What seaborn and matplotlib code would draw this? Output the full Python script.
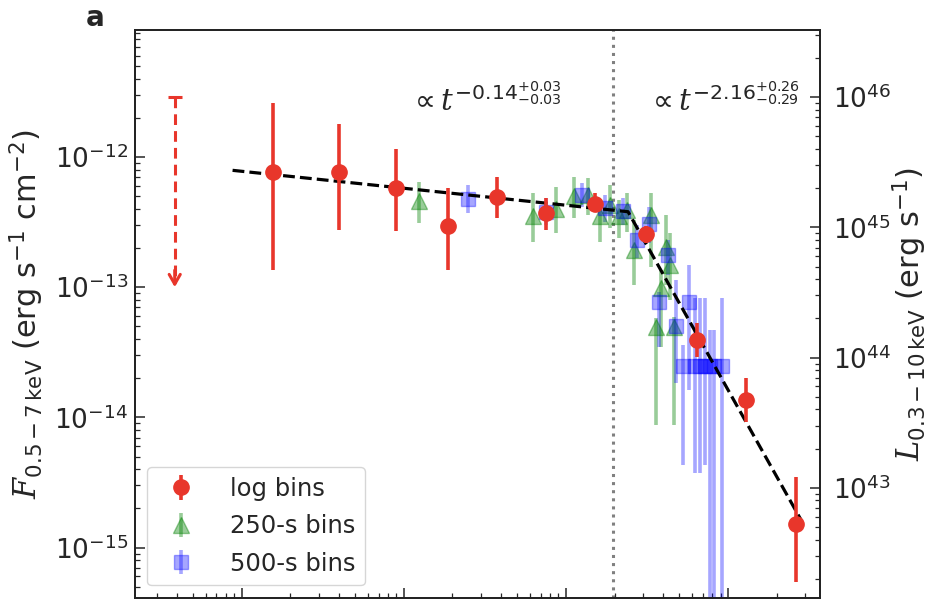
import numpy as np
import pandas as pd
import matplotlib
matplotlib.use("Agg")
import matplotlib.pyplot as plt
from matplotlib.ticker import NullFormatter
import seaborn as sns

# ---------------- data ----------------
# log bins (red): time [s], flux, upper bound, lower bound
log_t  = [15.6, 39.9, 89.5, 187.5, 376, 756, 1517, 3133, 6457, 12970, 26420]
log_f  = [7.67e-13, 7.67e-13, 5.78e-13, 2.95e-13, 4.93e-13, 3.72e-13, 4.36e-13,
          2.56e-13, 3.94e-14, 1.36e-14, 1.52e-15]
log_hi = [2.59e-12, 1.79e-12, 1.15e-12, 5.78e-13, 7.03e-13, 4.84e-13, 5.30e-13,
          2.95e-13, 5.32e-14, 2.01e-14, 3.50e-15]
log_lo = [1.36e-13, 2.75e-13, 2.71e-13, 1.36e-13, 3.40e-13, 2.75e-13, 3.78e-13,
          2.19e-13, 2.92e-14, 9.25e-15, 5.47e-16]

# 250-s bins (green)
g_t  = [125, 625, 875, 1125, 1375, 1625, 1875, 2125, 2375, 2625, 3375, 3625,
        3875, 4125, 4375, 4625]
g_f  = [4.60e-13, 3.53e-13, 3.99e-13, 5.02e-13, 5.11e-13, 3.53e-13, 4.28e-13,
        3.53e-13, 3.92e-13, 1.93e-13, 3.59e-13, 4.96e-14, 9.88e-14, 2.04e-13,
        1.48e-13, 4.96e-14]
g_hi = [6.43e-13, 5.29e-13, 5.89e-13, 7.02e-13, 6.90e-13, 4.68e-13, 6.10e-13,
        4.68e-13, 5.29e-13, 3.28e-13, 5.29e-13, 5.81e-14, 1.36e-13, 3.59e-13,
        2.61e-13, 5.92e-14]
g_lo = [3.11e-13, 2.23e-13, 2.61e-13, 3.40e-13, 3.59e-13, 2.23e-13, 2.85e-13,
        2.39e-13, 2.66e-13, 1.04e-13, 1.43e-13, 8.77e-15, 3.48e-14, 1.04e-13,
        7.99e-14, 8.77e-15]

# 500-s bins (blue)
b_t  = [250, 750, 1250, 1750, 2250, 2750, 3250, 3750, 4250, 4750, 5250, 5750,
        6250, 6750, 7250, 7750, 8250, 9250]
b_f  = [4.76e-13, 3.78e-13, 5.11e-13, 4.06e-13, 3.85e-13, 2.31e-13, 3.06e-13,
        7.71e-14, 1.77e-13, 5.05e-14, 2.49e-14, 7.71e-14, 2.49e-14, 2.49e-14,
        2.49e-14, 2.49e-14, 2.49e-14, 2.49e-14]
b_hi = [6.10e-13, 4.84e-13, 6.32e-13, 5.11e-13, 4.84e-13, 3.01e-13, 4.13e-13,
        9.20e-14, 2.31e-13, 1.14e-13, 3.61e-14, 1.48e-13, 8.28e-14, 8.28e-14,
        8.28e-14, 4.70e-14, 4.70e-14, 8.28e-14]
b_lo = [3.72e-13, 3.01e-13, 4.13e-13, 3.17e-13, 3.01e-13, 1.68e-13, 2.19e-13,
        3.48e-14, 1.24e-13, 1.84e-14, 4.33e-15, 1.63e-14, 3.76e-15, 3.76e-15,
        4.33e-15, 1e-17, 1e-17, 1e-17]

# upper limit (red dashed arrow)
ul_t, ul_top, ul_tip = 3.87, 2.88e-12, 1.0e-13

# broken power-law fit (vertices)
fit_t = [8.8, 2420, 28250]
fit_f = [7.9e-13, 3.8e-13, 1.63e-15]

break_t = 1960
lum_factor = 3.47e57          # L / F conversion for the right axis
x_lim = (2.2, 3.7e4)
y_lim = (4.13e-16, 9.45e-12)

# ---------------- style ----------------
sns.set_style("ticks")
plt.rcParams["font.family"] = ["DejaVu Sans"]
plt.rcParams.update({
    "mathtext.fontset": "custom",
    "mathtext.it": "DejaVu Serif:italic",
    "mathtext.rm": "DejaVu Sans",
    "mathtext.sf": "DejaVu Sans",
    "mathtext.bf": "DejaVu Sans:bold",
    "xtick.direction": "in",
    "ytick.direction": "in",
    "axes.edgecolor": "#222222",
    "axes.linewidth": 1.3,
})

red = "#e8362b"
fig = plt.figure(figsize=(9.34, 6.0), dpi=100)
ax = fig.add_axes([0.1445, 0.004, 0.7335, 0.946])
ax.set_xscale("log")
ax.set_yscale("log")


def yerr(f, hi, lo):
    f, hi, lo = map(np.asarray, (f, hi, lo))
    return np.vstack([f - lo, hi - f])


# green & blue bins
ax.errorbar(g_t, g_f, yerr=yerr(g_f, g_hi, g_lo), fmt="^", color="green",
            ms=11.5, elinewidth=2.6, alpha=0.4, label="250-s bins", zorder=3)
ax.errorbar(b_t, b_f, yerr=yerr(b_f, b_hi, b_lo), fmt="s", color="blue",
            ms=10.5, elinewidth=2.6, alpha=0.35, label="500-s bins", zorder=3)

# fit line
fit_df = pd.DataFrame({"t": fit_t, "f": fit_f})
sns.lineplot(data=fit_df, x="t", y="f", ax=ax, color="black", lw=2.3,
             linestyle="--", zorder=5, sort=False)

# log bins
ax.errorbar(log_t, log_f, yerr=yerr(log_f, log_hi, log_lo), fmt="o",
            color=red, ms=11, elinewidth=2.6, label="log bins", zorder=6)

# upper limit
ax.plot([ul_t, ul_t], [ul_top, ul_tip * 1.08], color=red, lw=2.2,
        linestyle=(0, (3.5, 2.0)), zorder=6)
ax.plot([ul_t], [ul_top], marker="_", ms=10, mew=2.2, color=red, zorder=6)
ax.annotate("", xy=(ul_t, ul_tip), xytext=(ul_t, ul_tip * 1.35),
            arrowprops=dict(arrowstyle="->,head_length=0.7,head_width=0.4",
                            color=red, lw=2.2, shrinkA=0, shrinkB=0))

# break line
ax.axvline(break_t, color="gray", linestyle=":", lw=2.2, zorder=1)

ax.set_xlim(*x_lim)
ax.set_ylim(*y_lim)
ax.xaxis.set_major_formatter(NullFormatter())
ax.xaxis.set_minor_formatter(NullFormatter())
ax.tick_params(axis="x", which="both", labelbottom=False, top=False)
ax.tick_params(which="major", length=7, width=1.1, labelsize=19)
ax.tick_params(which="minor", length=3.5, width=0.9)
ax.tick_params(axis="y", right=False, pad=5)
ax.set_xlabel("")
ax.set_ylabel(r"$F_{0.5-7\,\mathrm{keV}}$ (erg s$^{-1}$ cm$^{-2}$)",
              fontsize=22, labelpad=6)

# texts
ax.text(108, 2.74e-12, r"$\propto t^{-0.14^{+0.03}_{-0.03}}$", fontsize=21,
        ha="left", va="center")
ax.text(3150, 2.74e-12, r"$\propto t^{-2.16^{+0.26}_{-0.29}}$", fontsize=21,
        ha="left", va="center")
fig.text(0.1017, 0.970, "a", fontsize=20, fontweight="bold", ha="center",
         va="center")

# legend
handles, labels = ax.get_legend_handles_labels()
order = [labels.index(l) for l in ["log bins", "250-s bins", "500-s bins"]]
ax.legend([handles[i] for i in order], [labels[i] for i in order],
          loc="lower left", fontsize=17.5, frameon=True, fancybox=True,
          handletextpad=1.0, borderaxespad=0.5, labelspacing=0.55)

# right axis
ax2 = ax.twinx()
ax2.set_yscale("log")
ax2.set_ylim(y_lim[0] * lum_factor, y_lim[1] * lum_factor)
ax2.tick_params(which="major", length=7, width=1.1, labelsize=19,
                direction="in", pad=9)
ax2.tick_params(which="minor", length=3.5, width=0.9, direction="in")
ax2.set_ylabel(r"$L_{0.3-10\,\mathrm{keV}}$ (erg s$^{-1}$)", fontsize=22,
               labelpad=0)
sns.despine(ax=ax, top=False, right=False)

fig.savefig("out.png", dpi=100)
